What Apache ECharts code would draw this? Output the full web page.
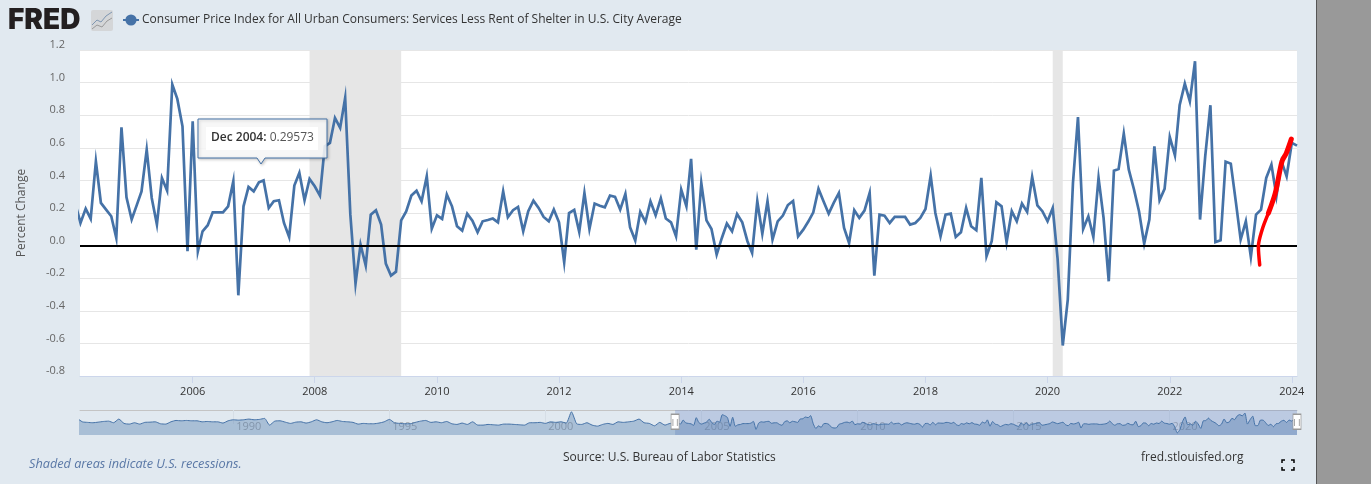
<!DOCTYPE html>
<html>
<head>
<meta charset="utf-8">
<title>FRED - CPI Services Less Rent of Shelter</title>
<script src="https://cdn.jsdelivr.net/npm/echarts@6/dist/echarts.min.js"></script>
<style>
    html, body { margin: 0; padding: 0; background: #999999; overflow: hidden; }
    #chart { width: 1316px; height: 484px; border-right: 1px solid #555555; }
</style>
</head>
<body>
<div id="chart"></div>
<script>
var seriesName = 'Consumer Price Index for All Urban Consumers: Services Less Rent of Shelter in U.S. City Average';

// monthly percent change, Feb 2004 to Feb 2024, 12 values a row from Mar
var cpiFirst = [2004, 1];
var cpiValues = [0.25,
    0.139, 0.227, 0.164, 0.517, 0.262, 0.221, 0.18, 0.047, 0.726, 0.296, 0.16, 0.25,
    0.333, 0.589, 0.292, 0.129, 0.415, 0.337, 0.988, 0.90, 0.732, -0.035, 0.763, -0.035,
    0.088, 0.125, 0.204, 0.204, 0.204, 0.241, 0.395, -0.305, 0.241, 0.36, 0.333, 0.388,
    0.40, 0.231, 0.272, 0.278, 0.139, 0.053, 0.368, 0.446, 0.278, 0.409, 0.364, 0.307,
    0.609, 0.63, 0.783, 0.722, 0.906, 0.19, -0.233, 0.006, -0.123, 0.19, 0.217, 0.129,
    -0.11, -0.184, -0.16, 0.155, 0.21, 0.307, 0.337, 0.272, 0.425, 0.104, 0.186, 0.164,
    0.313, 0.241, 0.119, 0.092, 0.196, 0.153, 0.082, 0.149, 0.157, 0.166, 0.143, 0.333,
    0.174, 0.217, 0.237, 0.088, 0.211, 0.276, 0.231, 0.176, 0.149, 0.221, 0.143, -0.102,
    0.20, 0.219, 0.084, 0.323, 0.102, 0.258, 0.245, 0.235, 0.307, 0.299, 0.221, 0.317,
    0.112, 0.031, 0.207, 0.145, 0.272, 0.186, 0.29, 0.166, 0.143, 0.057, 0.344, 0.241,
    0.532, -0.025, 0.384, 0.155, 0.102, -0.055, 0.047, 0.135, 0.088, 0.194, 0.143, 0.027,
    -0.045, 0.272, 0.072, 0.272, 0.037, 0.149, 0.184, 0.249, 0.274, 0.057, 0.098, 0.149,
    0.204, 0.348, 0.272, 0.196, 0.262, 0.323, 0.108, 0.016, 0.217, 0.17, 0.215, 0.323,
    -0.184, 0.19, 0.184, 0.139, 0.176, 0.176, 0.176, 0.129, 0.139, 0.17, 0.225, 0.429,
    0.20, 0.057, 0.19, 0.196, 0.053, 0.082, 0.231, 0.119, 0.094, 0.415, -0.065, 0.027,
    0.266, 0.241, 0.02, 0.211, 0.149, 0.258, 0.207, 0.421, 0.247, 0.211, 0.149, 0.231,
    -0.08, -0.613, -0.331, 0.384, 0.789, 0.102, 0.18, 0.053, 0.415, 0.17, -0.219, 0.46,
    0.47, 0.687, 0.466, 0.344, 0.211, 0.012, 0.16, 0.609, 0.278, 0.348, 0.667, 0.554,
    0.861, 0.994, 0.885, 1.131, 0.16, 0.548, 0.861, 0.022, 0.033, 0.515, 0.503, 0.262,
    0.037, 0.149, -0.07, 0.19, 0.221, 0.415, 0.497, 0.303, 0.515, 0.425, 0.63, 0.613];

// hand drawn red stroke on top of the series, thin at the bottom and thick at the top
var redDates = ['2023-06-23', '2023-06-15', '2023-07-07', '2023-08-14', '2023-09-24', '2023-11-03', '2023-11-29', '2023-12-29'];
var redValues = [-0.119, -0.006, 0.096, 0.199, 0.322, 0.516, 0.567, 0.653];

// navigator, every second month Jan 1985 to Jan 2004
var navFirst = [1985, 0];
var navEarlyValues = [0.66, 0.36, 0.31, 0.28, 0.33, 0.39, 0.42, 0.28, 0.60, 0.22, 0.16, 0.28,
    0.16, 0.31, 0.33, 0.36, 0.19, 0.16, 0.36, 0.48, 0.45, 0.48, 0.45, 0.45,
    0.36, 0.39, 0.36, 0.36, 0.25, 0.45, 0.54, 0.51, 0.54, 0.60, 0.54, 0.57,
    0.66, 0.07, 0.42, 0.45, 0.33, 0.22, 0.33, 0.36, 0.25, 0.36, 0.54, 0.36,
    0.28, 0.36, 0.48, 0.39, 0.36, 0.31, 0.16, 0.22, 0.19, 0.19, 0.25, 0.36,
    0.57, 0.28, 0.22, 0.19, 0.19, 0.31, 0.42, 0.48, 0.31, 0.36, 0.28, 0.39,
    0.19, 0.13, 0.25, 0.13, 0.36, 0.07, 0.07, 0.13, 0.10, 0.07, 0.16, 0.16,
    0.13, 0.10, 0.07, 0.28, 0.28, 0.31, 0.22, 0.36, 0.31, 0.36, 0.25, 1.24,
    0.19, 0.13, 0.28, 0.07, -0.02, 0.13, 0.22, 0.13, 0.36, 0.31, 0.36, 0.42,
    0.60, 0.28, 0.22, 0.01, 0.31, 0.07, 0.22];

var recessions = [['2007-12-01', '2009-06-01'], ['2020-02-01', '2020-04-01']];
var xTickYears = [2006, 2008, 2010, 2012, 2014, 2016, 2018, 2020, 2022, 2024];
var navTickYears = [1990, 1995, 2000, 2005, 2010, 2015, 2020];
var xRange = ['2004-02-27', '2024-02-01'];
var navRange = ['1985-02-01', '2024-02-01'];

var fontName = '"Open Sans", sans-serif';
var blue = '#4572a7';

function ts(text) {
    return new Date(text + 'T00:00:00Z').getTime();
}
function yearTs(y) {
    return Date.UTC(y, 0, 1);
}
function yearLabel(v) {
    return String(new Date(v).getUTCFullYear());
}

var cpiData = cpiValues.map(function (v, i) {
    return [Date.UTC(cpiFirst[0], cpiFirst[1] + i, 1), v];
});
var redData = redValues.map(function (v, i) {
    return [ts(redDates[i]), v];
});
var navData = navEarlyValues.map(function (v, i) {
    return [Date.UTC(navFirst[0], navFirst[1] + i * 2, 1), v];
}).concat(cpiData.slice(1));

function redSeries(name, data, width) {
    return {
        name: name,
        type: 'line',
        xAxisIndex: 0,
        yAxisIndex: 0,
        data: data,
        z: 6,
        smooth: 0.3,
        symbol: 'none',
        silent: true,
        lineStyle: { color: '#ff0000', width: width, cap: 'round' },
        itemStyle: { color: '#ff0000' }
    };
}

var myChart = echarts.init(document.getElementById('chart'));

// x axes are value axes on timestamps, customValues throws on a time axis
var option = {
    animation: false,
    backgroundColor: '#e1e9f0',
    textStyle: { fontFamily: fontName },
    legend: {
        left: 122,
        top: 14,
        padding: 0,
        itemWidth: 16,
        itemHeight: 14,
        itemGap: 4,
        data: [seriesName],
        textStyle: { color: '#333333', fontSize: 12, fontFamily: fontName, fontWeight: 400, padding: [0, 0, 0, -2] }
    },
    grid: [
        { left: 80, top: 50, width: 1217, height: 326, show: true, backgroundColor: '#ffffff', borderWidth: 0 },
        { left: 80, top: 410, width: 1217, height: 25, show: false }
    ],
    xAxis: [{
        type: 'value',
        gridIndex: 0,
        min: ts(xRange[0]),
        max: ts(xRange[1]),
        axisLine: { onZero: false, lineStyle: { color: '#ccd6eb', width: 1 } },
        axisTick: { show: true, length: 7, lineStyle: { color: '#ccd6eb' }, customValues: xTickYears.map(yearTs) },
        axisLabel: {
            color: '#333333', fontSize: 11, margin: 10, fontFamily: fontName, hideOverlap: false,
            customValues: xTickYears.map(yearTs), formatter: yearLabel
        },
        splitLine: { show: false }
    }, {
        type: 'value',
        gridIndex: 1,
        position: 'top',
        min: ts(navRange[0]),
        max: ts(navRange[1]),
        axisLine: { onZero: false, lineStyle: { color: '#c4c4c4', width: 1 } },
        axisTick: { show: true, inside: true, length: 14, lineStyle: { color: '#d6dee6' }, customValues: navTickYears.map(yearTs) },
        axisLabel: {
            inside: true, color: 'rgba(90,90,90,0.45)', fontSize: 11, margin: 11, align: 'left', fontFamily: fontName,
            customValues: navTickYears.map(yearTs), formatter: function (v) { return ' ' + yearLabel(v); }
        },
        splitLine: { show: false }
    }],
    yAxis: [{
        type: 'value',
        gridIndex: 0,
        min: -0.8,
        max: 1.2,
        interval: 0.2,
        name: 'Percent Change',
        nameLocation: 'middle',
        nameGap: 52,
        nameTextStyle: { color: '#555555', fontSize: 12, fontFamily: fontName },
        axisLine: { show: false },
        axisTick: { show: false },
        axisLabel: {
            color: '#666666', fontSize: 11, margin: 15, verticalAlign: 'bottom', lineHeight: 10, fontFamily: fontName,
            formatter: function (v) { return v.toFixed(1); }
        },
        splitLine: { lineStyle: { color: '#e6e6e6', width: 1 } }
    }, {
        type: 'value',
        gridIndex: 1,
        min: -0.8,
        max: 1.4,
        show: false,
        splitLine: { show: false }
    }],
    series: [{
        name: seriesName,
        type: 'line',
        xAxisIndex: 0,
        yAxisIndex: 0,
        data: cpiData,
        symbol: 'none',
        lineStyle: { color: blue, width: 2.7, join: 'miter' },
        itemStyle: { color: blue },
        silent: true,
        markArea: {
            silent: true,
            itemStyle: { color: '#e6e6e6' },
            data: recessions.map(function (r) {
                return [{ xAxis: ts(r[0]) }, { xAxis: ts(r[1]) }];
            })
        },
        markLine: {
            silent: true,
            symbol: 'none',
            label: { show: false },
            lineStyle: { color: '#000000', width: 2, type: 'solid' },
            data: [{ yAxis: 0 }]
        }
    },
    redSeries('Red stroke lower', redData.slice(0, 4), 3.5),
    redSeries('Red stroke upper', redData.slice(3), 5),
    {
        name: 'Navigator',
        type: 'line',
        xAxisIndex: 1,
        yAxisIndex: 1,
        data: navData,
        smooth: 0.2,
        symbol: 'none',
        silent: true,
        lineStyle: { color: blue, width: 1 },
        itemStyle: { color: blue },
        areaStyle: { color: 'rgba(69,114,167,0.5)', origin: 'start' },
        markArea: {
            silent: true,
            z: 3,
            itemStyle: { color: 'rgba(102,133,194,0.3)' },
            data: [[{ xAxis: ts(xRange[0]) }, { xAxis: ts(xRange[1]) }]]
        },
        markPoint: {
            silent: true,
            symbol: 'rect',
            symbolSize: [8, 15],
            itemStyle: { color: '#ffffff', borderColor: '#999999', borderWidth: 1 },
            label: { show: true, position: 'inside', formatter: '||', color: '#666666', fontSize: 8 },
            data: [
                { coord: [ts(xRange[0]), 0.37] },
                { coord: [ts(xRange[1]), 0.37] }
            ]
        }
    }],
    graphic: [
        // FRED logo
        { type: 'text', z: 20, left: 8, top: 7, style: { text: 'FRED', fill: '#231f20', fontSize: 28, fontWeight: 900, fontFamily: 'Inter, sans-serif' } },
        { type: 'rect', z: 20, shape: { x: 91, y: 10, width: 22, height: 21, r: 2 }, style: { fill: '#d4d6d8' } },
        { type: 'polyline', z: 21, shape: { points: [[92, 25], [97, 20], [101, 22], [106, 16], [112, 12]] }, style: { stroke: '#7f97b2', fill: null, lineWidth: 1 } },
        { type: 'polyline', z: 21, shape: { points: [[92, 29], [97, 25], [102, 27], [107, 21], [112, 18]] }, style: { stroke: '#9a9a9a', fill: null, lineWidth: 1 } },
        // tooltip
        {
            type: 'polygon', z: 30,
            shape: { points: [[198, 119], [327, 119], [327, 158], [265, 158], [261, 164], [257, 158], [198, 158]] },
            style: { fill: 'rgba(255,255,255,0.85)', stroke: blue, lineWidth: 1, shadowBlur: 3, shadowColor: 'rgba(0,0,0,0.25)', shadowOffsetX: 1, shadowOffsetY: 1 }
        },
        { type: 'rect', z: 31, shape: { x: 206, y: 127, width: 112, height: 23 }, style: { fill: '#ffffff' } },
        {
            type: 'text', z: 32, left: 211, top: 132,
            style: {
                text: '{b|Dec 2004:} 0.29573',
                fill: '#555555',
                fontSize: 12,
                fontFamily: fontName,
                rich: { b: { fontWeight: 600, fill: '#333333', fontSize: 12, fontFamily: fontName } }
            }
        },
        // footer
        { type: 'text', z: 20, left: 29, top: 458, style: { text: 'Shaded areas indicate U.S. recessions.', fill: '#5a78a6', fontSize: 12.7, fontStyle: 'italic', fontFamily: fontName } },
        { type: 'text', z: 20, left: 563, top: 452, style: { text: 'Source: U.S. Bureau of Labor Statistics', fill: '#333333', fontSize: 12, fontFamily: fontName } },
        { type: 'text', z: 20, left: 1141, top: 452, style: { text: 'fred.stlouisfed.org', fill: '#333333', fontSize: 12, fontFamily: fontName } },
        // fullscreen icon
        { type: 'polyline', z: 20, shape: { points: [[1282, 463], [1282, 460], [1285, 460]] }, style: { stroke: '#000', fill: null, lineWidth: 1.5 } },
        { type: 'polyline', z: 20, shape: { points: [[1291, 460], [1294, 460], [1294, 463]] }, style: { stroke: '#000', fill: null, lineWidth: 1.5 } },
        { type: 'polyline', z: 20, shape: { points: [[1282, 467], [1282, 470], [1285, 470]] }, style: { stroke: '#000', fill: null, lineWidth: 1.5 } },
        { type: 'polyline', z: 20, shape: { points: [[1291, 470], [1294, 470], [1294, 467]] }, style: { stroke: '#000', fill: null, lineWidth: 1.5 } }
    ]
};

myChart.setOption(option);
</script>
</body>
</html>
